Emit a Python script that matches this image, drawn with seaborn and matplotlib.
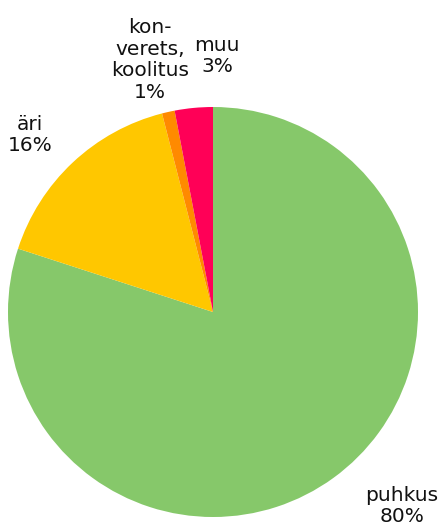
import matplotlib
matplotlib.use("Agg")
import matplotlib.pyplot as plt
import seaborn as sns

categories = ["puhkus", "äri", "kon-\nverets,\nkoolitus", "muu"]
values = [80, 16, 1, 3]
colors = ["#86C86A", "#FFC700", "#FF8A00", "#FF0057"]

sns.set_theme(style="white")
plt.rcParams['font.family'] = ['DejaVu Sans']

fig = plt.figure(figsize=(4.45, 5.27), dpi=100)
ax = fig.add_axes([0, 0, 1, 1])
ax.pie(values, colors=colors, startangle=90, counterclock=False,
       radius=205, center=(213, 215), wedgeprops=dict(linewidth=0))
ax.set_xlim(0, 445)
ax.set_ylim(0, 527)
ax.set_aspect('equal')
ax.axis('off')

label_pos = [(402, 21), (30, 392), (150, 467), (217, 471)]
for cat, val, (x, y) in zip(categories, values, label_pos):
    ax.text(x, y, f"{cat}\n{val}%", ha='center', va='center', fontsize=14.5,
            color='#111111', linespacing=1.17)

fig.savefig("out.png", dpi=100)
